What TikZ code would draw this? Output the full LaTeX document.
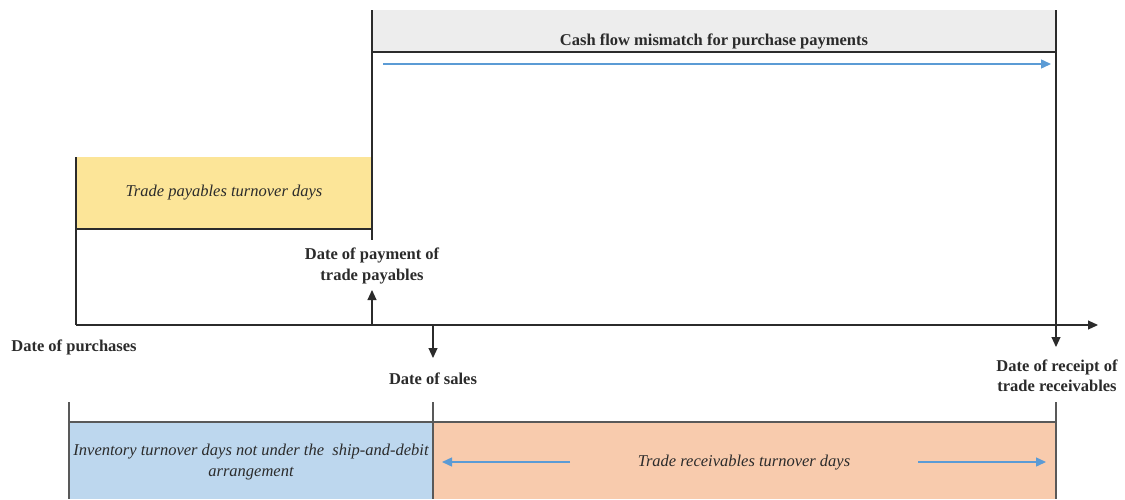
\documentclass[tikz,border=0pt]{standalone}
\usepackage{fontspec}
\setmainfont{Liberation Serif}
\usetikzlibrary{arrows.meta}
\definecolor{lineC}{HTML}{2B2B2B}
\definecolor{grayF}{HTML}{EDEDED}
\definecolor{yellowF}{HTML}{FCE598}
\definecolor{blueF}{HTML}{BDD7EE}
\definecolor{orangeF}{HTML}{F8CBAD}
\definecolor{arrowB}{HTML}{5B9BD5}
\tikzset{
  ln/.style={draw=lineC, line width=1.1pt},
  blk/.style={ln, -{Triangle[length=10pt,width=9pt]}},
  blu/.style={draw=arrowB, line width=1.4pt, -{Triangle[length=10pt,width=9pt]}},
  boldlbl/.style={font=\fontsize{16.5}{20.5}\selectfont\bfseries, text=lineC, align=center, inner sep=0pt},
  itlbl/.style={font=\fontsize{16.5}{21}\selectfont\itshape, text=lineC, align=center, inner sep=0pt},
}
\begin{document}
\begin{tikzpicture}[x=1pt,y=-1pt]
\useasboundingbox (0,0) rectangle (1125,499);
% fills
\fill[grayF] (372,10) rectangle (1056,52);
\fill[yellowF] (76,157) rectangle (372,229);
\fill[blueF] (69,422) rectangle (433,499);
\fill[orangeF] (433,422) rectangle (1056,499);
% coordinates
\coordinate (gTL) at (372,10);
\coordinate (gTR) at (1056,10);
\coordinate (gBL) at (372,52);
\coordinate (gBR) at (1056,52);
\coordinate (payEnd) at (372,240);
\coordinate (yTL) at (76,157);
\coordinate (yBL) at (76,229);
\coordinate (yBR) at (372,229);
\coordinate (ax0) at (76,325);
\coordinate (ax1) at (1098,325);
\coordinate (payBase) at (372,325);
\coordinate (payTip) at (372,290);
\coordinate (salesBase) at (433,325);
\coordinate (salesTip) at (433,358);
\coordinate (recTip) at (1056,347);
\coordinate (bL) at (69,402);
\coordinate (bLb) at (69,499);
\coordinate (bM) at (433,402);
\coordinate (bMb) at (433,499);
\coordinate (bR) at (1056,402);
\coordinate (bRb) at (1056,499);
\coordinate (hL) at (69,422);
\coordinate (hR) at (1056,422);
\coordinate (mS) at (383,64);
\coordinate (mE) at (1051,64);
\coordinate (rl0) at (570,462);
\coordinate (rl1) at (442,462);
\coordinate (rr0) at (918,462);
\coordinate (rr1) at (1046,462);
% lines
\draw[ln] (gTL) -- (payEnd);
\draw[ln] (gBL) -- (gBR);
\draw[ln] (yBL) -- (yBR);
\draw[ln] (yTL) -- (ax0);
\draw[blk] (ax0) -- (ax1);
\draw[blk] (payBase) -- (payTip);
\draw[blk] (salesBase) -- (salesTip);
\draw[blk] (gTR) -- (recTip);
\draw[ln, draw=gray!70!black] (bL) -- (bLb);
\draw[ln, draw=gray!70!black] (bM) -- (bMb);
\draw[ln, draw=gray!70!black] (bR) -- (bRb);
\draw[ln, draw=gray!70!black] (hL) -- (hR);
\draw[blu] (mS) -- (mE);
\draw[blu] (rl0) -- (rl1);
\draw[blu] (rr0) -- (rr1);
% labels
\node[boldlbl] (cash) at (714,41) {Cash flow mismatch for purchase payments};
\node[itlbl] (tp) at (224,193) {Trade payables turnover days};
\node[boldlbl] (pay) at (372,266) {Date of payment of\\trade payables};
\node[boldlbl] (purch) at (74,347) {Date of purchases};
\node[boldlbl] (sales) at (433,379) {Date of sales};
\node[boldlbl] (rec) at (1057,376) {Date of receipt of\\trade receivables};
\node[itlbl] (inv) at (251,462) {Inventory turnover days not under the \ ship-and-debit\\arrangement};
\node[itlbl] (tr) at (744,463) {Trade receivables turnover days};
\end{tikzpicture}
\end{document}
